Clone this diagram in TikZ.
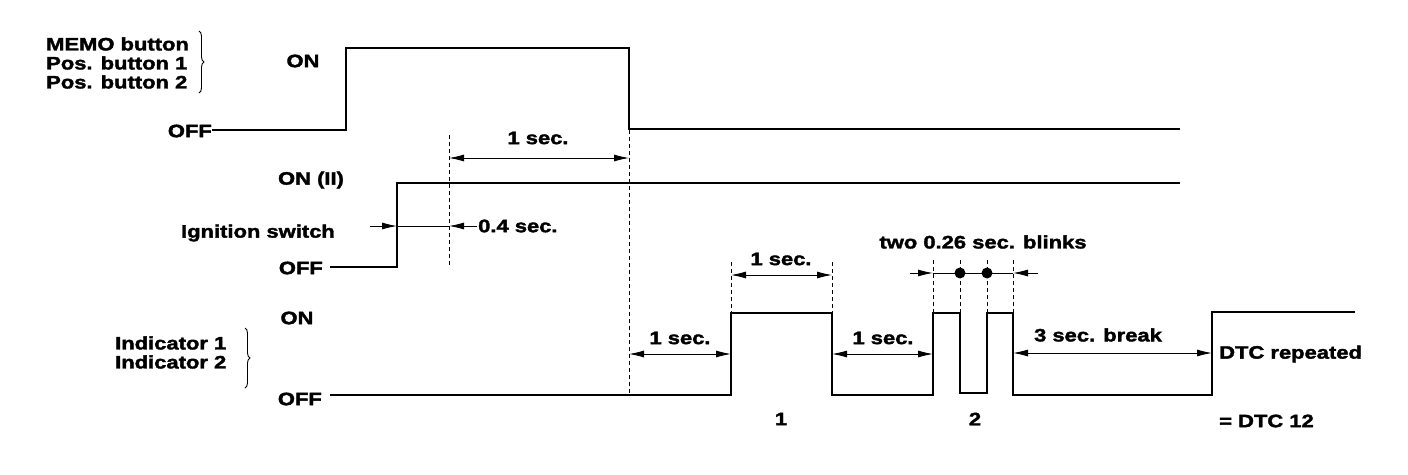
\documentclass[tikz,border=0pt]{standalone}
\usepackage{fontspec}
\setmainfont{Liberation Sans}[FakeStretch=1.22, FakeBold=2]
\usetikzlibrary{arrows.meta,decorations.pathreplacing}
\begin{document}
\begin{tikzpicture}[x=1pt,y=-1pt,
 sig/.style={line width=2.8pt, line join=miter},
 tip/.tip={Latex[length=15pt,width=7pt]},
 dim/.style={line width=0.9pt, tip-tip},
 half/.style={line width=0.9pt, -tip},
 thin/.style={line width=0.9pt},
 guide/.style={line width=0.8pt, dash pattern=on 4pt off 3pt},
 brc/.style={line width=0.9pt, decorate, decoration={brace, amplitude=5pt}},
 lbl/.style={font=\fontsize{18}{20}\selectfont\bfseries, inner sep=0pt},
]
\useasboundingbox (0,0) rectangle (1408,474);

% ---- MEMO / Pos. buttons
\node[lbl, anchor=west] (memo) at (46,44) {MEMO button};
\node[lbl, anchor=west] (pos1) at (46,63) {Pos. button 1};
\node[lbl, anchor=west] (pos2) at (46,82) {Pos. button 2};
\draw[brc] (199,31) -- (199,93);
\node[lbl] (on1) at (303,61) {ON};
\node[lbl, anchor=east] (off1) at (212,131) {OFF};
\draw[sig] (212,130) -- (346,130) -- (346,48) -- (629,48) -- (629,129) -- (1180,129);

% ---- Ignition switch
\node[lbl] (on2) at (311,180) {ON (II)};
\node[lbl, anchor=east] (ign) at (335,233) {Ignition switch};
\node[lbl, anchor=east] (off2) at (323,268) {OFF};
\draw[sig] (330,267) -- (397,267) -- (397,183) -- (1180,183);

% ---- Indicators
\node[lbl, anchor=west] (ind1) at (115,343) {Indicator 1};
\node[lbl, anchor=west] (ind2) at (115,362) {Indicator 2};
\draw[brc] (245,328) -- (245,388);
\node[lbl] (on3) at (297,318) {ON};
\node[lbl, anchor=east] (off3) at (322,399) {OFF};
\draw[sig] (330,395) -- (731,395) -- (731,313) -- (832,313) -- (832,395)
  -- (933,395) -- (933,313) -- (960,313) -- (960,393) -- (987,393) -- (987,313)
  -- (1013,313) -- (1013,395) -- (1212,395) -- (1212,312) -- (1355,312);

% ---- guides
\draw[guide] (449,135) -- (449,265);
\draw[guide] (629,130) -- (629,395);
\draw[guide] (731,262) -- (731,313);
\draw[guide] (832,262) -- (832,313);
\foreach \x in {933,960,987,1013} \draw[guide] (\x,260) -- (\x,313);

% ---- dimensions
\draw[dim] (449,158) -- (629,158);
\node[lbl] (d1) at (538,138) {1 sec.};

\draw[half] (370,226) -- (397,226);
\draw[thin] (397,226) -- (449,226);
\draw[half] (477,226) -- (449,226);
\node[lbl, anchor=west] (d04) at (478,226) {0.4 sec.};

\draw[dim] (629,354) -- (731,354);
\node[lbl] (d2) at (680,338) {1 sec.};
\draw[dim] (731,275) -- (832,275);
\node[lbl] (d3) at (781,259) {1 sec.};
\draw[dim] (832,354) -- (933,354);
\node[lbl] (d4) at (883,338) {1 sec.};

\draw[half] (910,273) -- (933,273);
\draw[thin] (933,273) -- (1013,273);
\draw[half] (1038,273) -- (1013,273);
\fill (960,273) circle (5.5);
\fill (987,273) circle (5.5);
\node[lbl] (blk) at (983,242) {two 0.26 sec. blinks};

\draw[dim] (1013,353) -- (1212,353);
\node[lbl] (brk) at (1098,335) {3 sec. break};
\node[lbl, anchor=west] (rep) at (1219,354) {DTC repeated};
\node[lbl, anchor=west] (dtc) at (1219,421) {= DTC 12};
\node[lbl] (n1) at (781,419) {1};
\node[lbl] (n2) at (975,419) {2};
\end{tikzpicture}
\end{document}
